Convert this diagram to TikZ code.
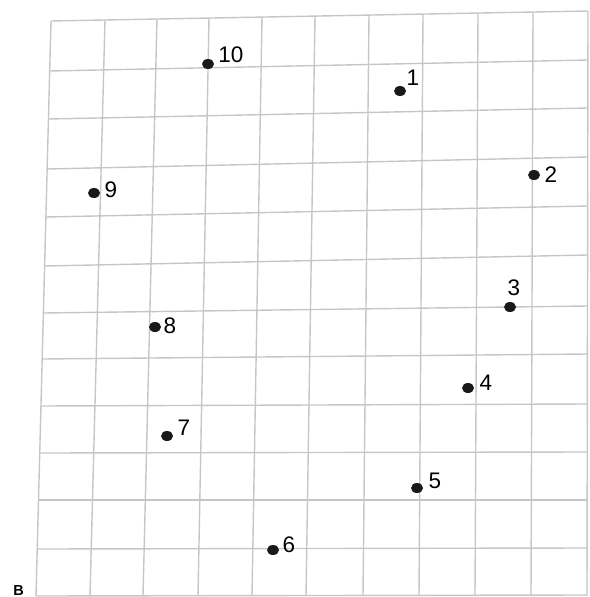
\documentclass[tikz,border=0pt]{standalone}
\usepackage{fontspec}
\setmainfont{Liberation Sans}
\usetikzlibrary{shapes.geometric}
\definecolor{gridgray}{RGB}{198,198,198}
\definecolor{dotblack}{RGB}{25,25,25}
\tikzset{
  gridline/.style={draw=gridgray, line width=1.4pt},
  dotmark/.style={ellipse, fill=dotblack, minimum width=12pt, minimum height=10pt, inner sep=0pt},
  numlabel/.style={anchor=base, inner sep=0pt, font=\fontsize{22.5}{22.5}\selectfont, text=black},
  panellabel/.style={anchor=base, inner sep=0pt, font=\fontsize{14.5}{14.5}\selectfont\bfseries, text=black}
}
\begin{document}
\begin{tikzpicture}[x=1pt,y=-1pt]
\useasboundingbox (0,0) rectangle (589,597);
% vertical grid lines (top x / bottom x)
\foreach \xt/\xb in {51/36,105/90,157/143,209/198,262/252,315/306,369/363,423/419,478/475,533/531,588/587}{
  \draw[gridline] ({\xt},{21-10*(\xt-51)/537}) -- (\xb,596);
}
% horizontal grid lines (left y / right y)
\foreach \yl/\yr in {21/11,71/60,119/108,169/157,217/206,266/255,313/306,359/354,406/404,453/452,500/500,549/548,596/595}{
  \draw[gridline] ({51-15*(\yl-21)/575},\yl) -- ({588-(\yr-11)/584},\yr);
}
% dots
\node[dotmark] (d1)  at (400,91)  {};
\node[dotmark] (d2)  at (534,175) {};
\node[dotmark] (d3)  at (510,307) {};
\node[dotmark] (d4)  at (468,388) {};
\node[dotmark] (d5)  at (417,488) {};
\node[dotmark] (d6)  at (273,550) {};
\node[dotmark] (d7)  at (167,436) {};
\node[dotmark] (d8)  at (155,327) {};
\node[dotmark] (d9)  at (94,193)  {};
\node[dotmark] (d10) at (208,64)  {};
% labels
\node[numlabel] (l1)  at (413,85)  {1};
\node[numlabel] (l2)  at (551,182) {2};
\node[numlabel] (l3)  at (514,295) {3};
\node[numlabel] (l4)  at (486,390) {4};
\node[numlabel] (l5)  at (435,488) {5};
\node[numlabel] (l6)  at (289,552) {6};
\node[numlabel] (l7)  at (184,435) {7};
\node[numlabel] (l8)  at (170,333) {8};
\node[numlabel] (l9)  at (111,197) {9};
\node[numlabel] (l10) at (231,62)  {10};
\node[panellabel] (pB) at (18.5,595) {B};
\end{tikzpicture}
\end{document}
